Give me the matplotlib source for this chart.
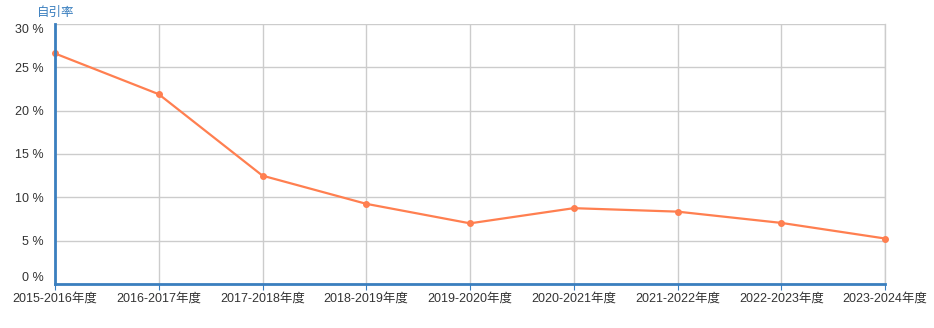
import matplotlib

matplotlib.use("Agg")
import matplotlib.pyplot as plt

plt.rcParams["font.family"] = ["Liberation Sans", "Noto Sans CJK SC", "DejaVu Sans"]

years = ["2015-2016年度", "2016-2017年度", "2017-2018年度", "2018-2019年度",
         "2019-2020年度", "2020-2021年度", "2021-2022年度", "2022-2023年度",
         "2023-2024年度"]
rate = [26.6, 21.9, 12.5, 9.25, 7.0, 8.75, 8.35, 7.05, 5.25]
yticks = [0, 5, 10, 15, 20, 25, 30]

C_LINE = "#ff7f50"
C_AXIS = "#3a7fbf"
C_GRID = "#cccccc"
C_TEXT = "#333333"

fig = plt.figure(figsize=(9.34, 3.28), dpi=100)
ax = fig.add_axes([55 / 934, 44 / 328, 830 / 934, 260 / 328])

x = list(range(len(years)))
ax.plot(x, rate, color=C_LINE, lw=1.6, marker="o", ms=4, zorder=3, clip_on=False)

ax.set_xlim(0, len(years) - 1)
ax.set_ylim(0, 30)
ax.set_xticks(x)
ax.set_xticklabels(years)
ax.set_yticks(yticks)
ax.set_yticklabels([f"{v} %" for v in yticks])
ax.grid(color=C_GRID, lw=1)
ax.set_axisbelow(True)

ax.spines["top"].set_visible(False)
ax.spines["right"].set_color(C_GRID)
ax.spines["right"].set_linewidth(1)
for s in ("left", "bottom"):
    ax.spines[s].set_color(C_AXIS)
    ax.spines[s].set_linewidth(2)
    ax.spines[s].set_zorder(4)

ax.tick_params(axis="y", length=0, pad=8, labelsize=9, labelcolor=C_TEXT)
ax.tick_params(axis="x", length=4, color=C_AXIS, pad=2, labelsize=9, labelcolor=C_TEXT)

# end labels sit inside the plot range, as in the reference
ylabels = ax.get_yticklabels()
ylabels[0].set_va("bottom")
ylabels[-1].set_va("top")

fig.text(37 / 934, 1 - 13 / 328, "自引率", color=C_AXIS, fontsize=9, va="center", ha="left")

fig.savefig("out.png", dpi=100)
